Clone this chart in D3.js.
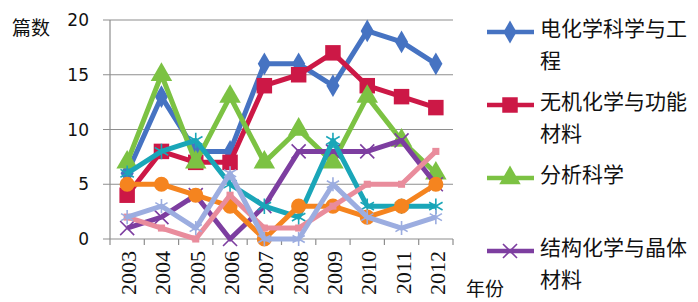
<!DOCTYPE html>
<html>
<head>
<meta charset="utf-8">
<script src="https://cdn.jsdelivr.net/npm/d3@7"></script>
<style>
  body { margin: 0; background: #fff; }
  text { fill: #111; }
</style>
</head>
<body>
<script>
// categories
var years = ["2003", "2004", "2005", "2006", "2007", "2008", "2009", "2010", "2011", "2012"];
var yTicks = [0, 5, 10, 15, 20];

// series values (articles per year)
var dianhua = [6, 13, 8, 8, 16, 16, 14, 19, 18, 16];
var wuji = [4, 8, 7, 7, 14, 15, 17, 14, 13, 12];
var fenxi = [7, 15, 7, 13, 7, 10, 7, 13, 9, 6];
var jiegou = [1, 2, 4, 0, 3, 8, 8, 8, 9, 5];
// the next four series have their legend entries cut off in the picture
var series5 = [6, 8, 9, 5, 3, 2, 9, 3, 3, 3];
var series6 = [5, 5, 4, 3, 0, 3, 3, 2, 3, 5];
var series7 = [2, 1, 0, 4, 1, 1, 3, 5, 5, 8];
var series8 = [2, 3, 1, 6, 0, 0, 5, 2, 1, 2];

var names = ["电化学科学与工程", "无机化学与功能材料", "分析科学", "结构化学与晶体材料"];
var yLabel = "篇数";
var xLabel = "年份";

var series = [
  {name: names[0], values: dianhua, color: "#4673c2", symbol: d3.symbolDiamond, size: 150, fill: true},
  {name: names[1], values: wuji, color: "#cc1846", symbol: d3.symbolSquare, size: 240, fill: true},
  {name: names[2], values: fenxi, color: "#7cc243", symbol: d3.symbolTriangle, size: 200, fill: true},
  {name: names[3], values: jiegou, color: "#7d3ea0", symbol: d3.symbolTimes, size: 130, fill: false},
  {name: "", values: series5, color: "#1aa6b8", symbol: d3.symbolAsterisk, size: 170, fill: false},
  {name: "", values: series6, color: "#f5841f", symbol: d3.symbolCircle, size: 180, fill: true},
  {name: "", values: series7, color: "#e98c9c", symbol: d3.symbolSquare, size: 50, fill: true},
  {name: "", values: series8, color: "#9cade0", symbol: d3.symbolAsterisk, size: 140, fill: false}
];

var width = 698, height = 302;
var plotLeft = 110, plotRight = 453, plotTop = 20, plotBottom = 239;

var svg = d3.select("body").append("svg")
  .attr("width", width).attr("height", height);

var x = d3.scaleBand().domain(years).range([plotLeft, plotRight]);
var y = d3.scaleLinear().domain([0, 20]).range([plotBottom, plotTop]);
function cx(i) { return x(years[i]) + x.bandwidth() / 2; }

// gridlines
svg.append("g").selectAll("line")
  .data(yTicks)
  .enter().append("line")
  .attr("x1", plotLeft - 7).attr("x2", plotRight)
  .attr("y1", function(d) { return y(d); })
  .attr("y2", function(d) { return y(d); })
  .attr("stroke", "#8e8e8e").attr("stroke-width", 1.2);

// y axis line
svg.append("line")
  .attr("x1", plotLeft).attr("x2", plotLeft).attr("y1", plotTop).attr("y2", plotBottom)
  .attr("stroke", "#8e8e8e").attr("stroke-width", 1.2);

// x ticks at band edges
var edges = years.map(function(d) { return x(d); }).concat([plotRight]);
svg.append("g").selectAll("line")
  .data(edges)
  .enter().append("line")
  .attr("x1", function(d) { return d; }).attr("x2", function(d) { return d; })
  .attr("y1", plotBottom).attr("y2", plotBottom + 6)
  .attr("stroke", "#8e8e8e").attr("stroke-width", 1.2);

// y tick labels
svg.append("g").selectAll("text")
  .data(yTicks)
  .enter().append("text")
  .attr("x", 89)
  .attr("y", function(d) { return y(d); })
  .attr("dy", "0.36em")
  .attr("text-anchor", "end")
  .style("font", "17px 'DejaVu Sans'")
  .text(function(d) { return d; });

// x tick labels, rotated
svg.append("g").selectAll("text")
  .data(years)
  .enter().append("text")
  .attr("transform", function(d) {
    return "translate(" + (x(d) + x.bandwidth() / 2 + 9) + "," + (plotBottom + 12) + ") rotate(-90)";
  })
  .attr("text-anchor", "end")
  .style("font", "22px 'Liberation Serif'")
  .text(function(d) { return d; });

svg.append("text")
  .attr("x", 12).attr("y", 35)
  .style("font", "19px 'Noto Sans CJK SC'")
  .text(yLabel);

svg.append("text")
  .attr("x", 466).attr("y", 296)
  .style("font", "19px 'Noto Sans CJK SC'")
  .text(xLabel);

// lines
var line = d3.line()
  .x(function(d, i) { return cx(i); })
  .y(function(d) { return y(d); });

series.forEach(function(s) {
  var g = svg.append("g");
  g.append("path")
    .attr("d", line(s.values))
    .attr("fill", "none")
    .attr("stroke", s.color)
    .attr("stroke-width", 5)
    .attr("stroke-linejoin", "round");
  g.selectAll("path.m")
    .data(s.values)
    .enter().append("path")
    .attr("class", "m")
    .attr("transform", function(d, i) { return "translate(" + cx(i) + "," + y(d) + ")"; })
    .attr("d", d3.symbol().type(s.symbol).size(s.size))
    .attr("fill", s.fill ? s.color : "none")
    .attr("stroke", s.color)
    .attr("stroke-width", s.fill ? 0 : 1.6);
});

// legend
var legendLines = [["电化学科学与工", "程"], ["无机化学与功能", "材料"], ["分析科学"], ["结构化学与晶体", "材料"]];
var legend = svg.append("g");
legendLines.forEach(function(rows, k) {
  var s = series[k];
  var ty = 28 + k * 73;
  var g = legend.append("g");
  g.append("line")
    .attr("x1", 487).attr("x2", 534)
    .attr("y1", ty + 4).attr("y2", ty + 4)
    .attr("stroke", s.color).attr("stroke-width", 4.5);
  g.append("path")
    .attr("transform", "translate(510," + (ty + 4) + ")")
    .attr("d", d3.symbol().type(s.symbol).size(s.size))
    .attr("fill", s.fill ? s.color : "none")
    .attr("stroke", s.color)
    .attr("stroke-width", s.fill ? 0 : 1.6);
  rows.forEach(function(r, j) {
    g.append("text")
      .attr("x", 540).attr("y", ty + j * 32)
      .attr("dy", "0.36em")
      .style("font", "21px 'Noto Sans CJK SC'")
      .text(r);
  });
});
</script>
</body>
</html>
